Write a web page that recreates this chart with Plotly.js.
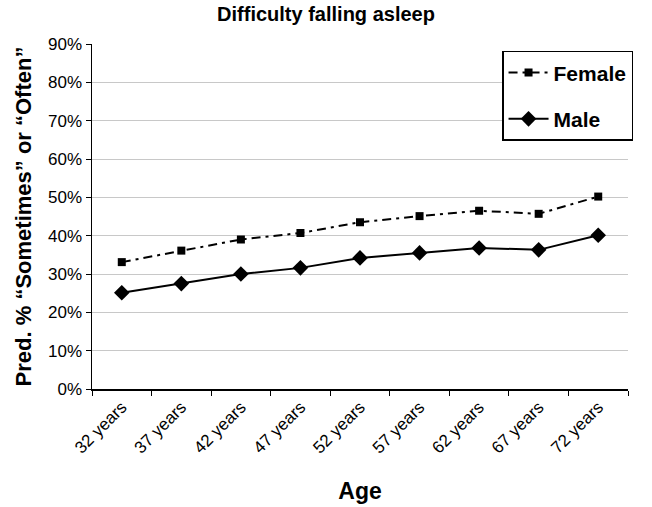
<!DOCTYPE html>
<html>
<head>
<meta charset="utf-8">
<script src="https://cdn.plot.ly/plotly-3.0.1.min.js"></script>
<style>
body{margin:0;background:#fff}
#chart{width:652px;height:507px}
</style>
</head>
<body>
<div id="chart"></div>
<script>
const categories = ["32 years","37 years","42 years","47 years","52 years","57 years","62 years","67 years","72 years"];
const female = [0.331, 0.361, 0.390, 0.407, 0.435, 0.451, 0.465, 0.457, 0.502];
const male = [0.251, 0.275, 0.300, 0.316, 0.342, 0.355, 0.368, 0.363, 0.401];
const yTicks = [0,0.1,0.2,0.3,0.4,0.5,0.6,0.7,0.8,0.9];

const narrow = "Liberation Sans, Arial, sans-serif";

const traces = [
  {x: categories, y: female, name: "<b>Female</b>", type: "scatter", mode: "lines+markers", legendgroup: "f",
   line: {color: "#000", width: 2, dash: "9px,5px,3px,5px"},
   marker: {symbol: "square", size: 8, color: "#000"}},
  {x: categories, y: male, name: "<b>Male</b>", type: "scatter", mode: "lines+markers", legendgroup: "m",
   line: {color: "#000", width: 2},
   marker: {symbol: "diamond", size: 12, color: "#000"}}
];

const layout = {
  width: 652, height: 507,
  margin: {l: 92, r: 24, t: 44, b: 118},
  paper_bgcolor: "#fff", plot_bgcolor: "#fff",
  font: {family: narrow, color: "#000", size: 16},
  title: {text: "<b>Difficulty falling asleep</b>", x: 0.5, xanchor: "center", y: 0.972, yanchor: "middle",
          font: {family: narrow, size: 20, color: "#000"}},
  xaxis: {type: "category", showline: true, linecolor: "#000", linewidth: 1.5, mirror: false,
          ticks: "outside", ticklen: 5, tickcolor: "#000", tickson: "boundaries",
          showgrid: false, tickangle: -45, tickfont: {family: narrow, size: 17},
          range: [-0.5, 8.5],
          title: {text: "<b>Age</b>", font: {family: narrow, size: 23}, standoff: 26}},
  yaxis: {range: [0, 0.9], tickvals: yTicks, tickformat: ".0%", showline: true, linecolor: "#000", linewidth: 1.5,
          ticks: "outside", ticklen: 5, tickcolor: "#000", showgrid: true, gridcolor: "#c8c8c8", gridwidth: 1,
          zeroline: false, tickfont: {family: narrow, size: 17},
          title: {text: "<b>Pred. % “Sometimes” or “Often”</b>", font: {family: narrow, size: 22}, standoff: 10}},
  legend: {x: 0.765, y: 0.98, xanchor: "left", yanchor: "top", bordercolor: "#000", borderwidth: 1.5,
           bgcolor: "#fff", font: {family: narrow, size: 21}, traceorder: "grouped", tracegroupgap: 16,
           itemwidth: 40},
  showlegend: true
};

Plotly.newPlot("chart", traces, layout, {displayModeBar: false, staticPlot: true});
</script>
</body>
</html>
